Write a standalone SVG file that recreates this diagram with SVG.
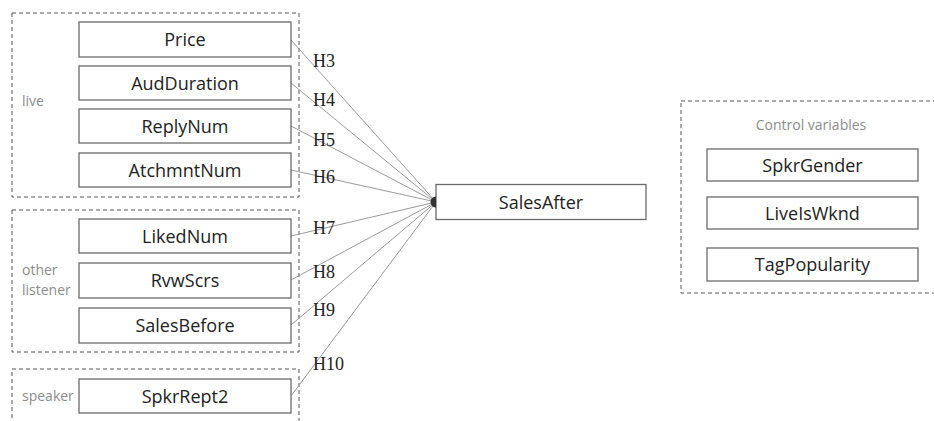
<svg xmlns="http://www.w3.org/2000/svg" width="934" height="421" viewBox="0 0 934 421">
<style>
.grp{fill:none;stroke:#555;stroke-width:1;stroke-dasharray:4 3}
.node rect{fill:#fff;stroke:#6a6a6a;stroke-width:1.3}
.node text{font-family:"Open Sans","Liberation Sans",sans-serif;font-size:18px;fill:#222;text-anchor:middle}
.glab{font-family:"Open Sans","Liberation Sans",sans-serif;font-size:14px;fill:#8c8c8c}
.conn line{stroke:#9a9a9a;stroke-width:1}
.hl{font-family:"Liberation Serif","Times New Roman",serif;font-size:18px;fill:#222}
</style>
<rect width="934" height="421" fill="#fff"/>
<g id="groups">
<rect class="grp" x="12" y="13" width="287" height="184"/>
<rect class="grp" x="12" y="210" width="287" height="142"/>
<rect class="grp" x="12" y="369" width="287" height="70"/>
<rect class="grp" x="681" y="101" width="280" height="192"/>
<text class="glab" x="22" y="106">live</text>
<text class="glab" x="22" y="275">other</text>
<text class="glab" x="22" y="295">listener</text>
<text class="glab" x="22" y="401">speaker</text>
<text class="glab" x="811" y="130" text-anchor="middle">Control variables</text>
</g>
<g id="connectors" class="conn">
<line x1="291" y1="40" x2="436" y2="202"/>
<line x1="291" y1="83" x2="436" y2="202"/>
<line x1="291" y1="126" x2="436" y2="202"/>
<line x1="291" y1="170" x2="436" y2="202"/>
<line x1="291" y1="236" x2="436" y2="202"/>
<line x1="291" y1="280" x2="436" y2="202"/>
<line x1="291" y1="325" x2="436" y2="202"/>
<line x1="291" y1="396" x2="436" y2="202"/>
<text class="hl" x="313" y="67">H3</text>
<text class="hl" x="313" y="106">H4</text>
<text class="hl" x="313" y="146">H5</text>
<text class="hl" x="313" y="183">H6</text>
<text class="hl" x="313" y="234">H7</text>
<text class="hl" x="313" y="278">H8</text>
<text class="hl" x="313" y="316">H9</text>
<text class="hl" x="313" y="370">H10</text>
</g>
<g id="n-price" class="node"><rect x="79" y="22" width="212" height="35"/><text x="185" y="46">Price</text></g>
<g id="n-audduration" class="node"><rect x="79" y="66" width="212" height="34"/><text x="185" y="89.5">AudDuration</text></g>
<g id="n-replynum" class="node"><rect x="79" y="109" width="212" height="34"/><text x="185" y="132.5">ReplyNum</text></g>
<g id="n-atchmntnum" class="node"><rect x="79" y="153" width="212" height="34"/><text x="185" y="176.5">AtchmntNum</text></g>
<g id="n-likednum" class="node"><rect x="79" y="219" width="212" height="34"/><text x="185" y="242.5">LikedNum</text></g>
<g id="n-rvwscrs" class="node"><rect x="79" y="263" width="212" height="35"/><text x="185" y="287">RvwScrs</text></g>
<g id="n-salesbefore" class="node"><rect x="79" y="308" width="212" height="35"/><text x="185" y="332">SalesBefore</text></g>
<g id="n-spkrrept2" class="node"><rect x="79" y="379" width="212" height="34"/><text x="185" y="402.5">SpkrRept2</text></g>
<g id="n-salesafter" class="node"><rect x="436" y="184.5" width="210" height="35"/><text x="541" y="208.5">SalesAfter</text><path d="M436 196.5 A5.5 5.5 0 0 0 436 207.5 Z" fill="#333" stroke="none"/></g>
<g id="n-spkrgender" class="node"><rect x="707" y="149" width="211" height="32"/><text x="812.5" y="171.5">SpkrGender</text></g>
<g id="n-liveiswknd" class="node"><rect x="707" y="197" width="211" height="32"/><text x="812.5" y="219.5">LiveIsWknd</text></g>
<g id="n-tagpopularity" class="node"><rect x="707" y="248" width="211" height="33"/><text x="812.5" y="271">TagPopularity</text></g>
</svg>
